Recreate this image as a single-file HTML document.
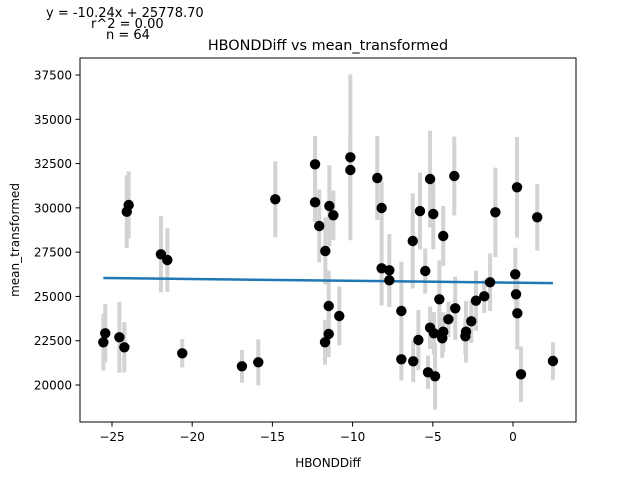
<!DOCTYPE html>
<html><head><meta charset="utf-8"><style>
body{margin:0;background:#fff;}
svg text{font-family:"DejaVu Sans","Liberation Sans",sans-serif;fill:#000;}
</style></head><body>
<svg id="chart" width="640" height="480" xmlns="http://www.w3.org/2000/svg">
<rect x="0" y="0" width="640" height="480" fill="#fff"/>
<text x="46" y="17" font-size="13">y = -10.24x + 25778.70</text>
<text x="91" y="28" font-size="13">r^2 = 0.00</text>
<text x="106" y="39" font-size="13">n = 64</text>
<text x="328" y="50" font-size="14.4" text-anchor="middle">HBONDDiff vs mean_transformed</text>
<g id="plot"></g>
<rect x="80" y="58" width="496" height="364" fill="none" stroke="#000" stroke-width="1"/>
<g id="xticks"></g>
<g id="yticks"></g>
<text x="328" y="467" font-size="12" text-anchor="middle">HBONDDiff</text>
<text x="19" y="240" font-size="12" text-anchor="middle" transform="rotate(-90 19 240)">mean_transformed</text>
</svg>
<script>
const xValues=[-25.54,-25.42,-24.54,-24.23,-24.08,-23.96,-21.95,-21.55,-20.62,-16.90,-15.88,-14.82,-12.34,-12.34,-11.45,-11.20,-12.08,-11.70,-11.49,-11.49,-11.72,-10.83,-10.14,-10.14,-8.46,-8.19,-8.19,-7.71,-7.71,-6.96,-6.96,-6.22,-6.25,-5.80,-5.47,-5.17,-4.97,-4.35,-5.30,-4.86,-5.17,-4.93,-4.59,-3.66,-5.90,-4.35,-4.41,-4.03,-3.60,-2.93,-2.97,-2.60,-2.31,-1.79,-1.43,-1.10,0.14,0.19,0.27,0.25,0.50,1.51,2.49];
const yValues=[22410,22918,22693,22128,29783,30161,27378,27056,21789,21056,21281,30483,32459,30313,30105,29580,28976,27564,24460,22879,22410,23895,32854,32137,31685,29992,26588,26475,25910,24177,21451,21338,28129,29822,26435,31629,29653,28411,20717,20491,23235,22918,24838,31798,22540,23009,22636,23709,24330,23009,22749,23596,24759,25007,25797,29749,26249,25120,24047,31160,20604,29467,21355];
const yErrors=[1600,1650,2000,1420,2050,1900,2150,1800,800,920,1300,2150,1600,1130,2300,1400,2050,1900,2000,1300,1270,1660,4680,2000,2370,1500,2100,2050,1500,2780,1200,1180,2680,2170,1270,2730,2000,1700,940,1880,1200,1200,2200,2230,1700,1100,1100,1000,1780,1740,1000,1220,1700,940,1630,2520,1500,1000,2050,2840,1570,1880,1060];
const xTickValues=[-25,-20,-15,-10,-5,0];
const xTickLabels=["\u221225","\u221220","\u221215","\u221210","\u22125","0"];
const yTickValues=[20000,22500,25000,27500,30000,32500,35000,37500];
const yTickLabels=["20000","22500","25000","27500","30000","32500","35000","37500"];
const slope=-10.24, intercept=25778.70;

const NS="http://www.w3.org/2000/svg";
function sx(v){return 513+v*16.04;}
function sy(v){return 385-(v-20000)*0.017714;}
function mk(tag,attrs,parent){const e=document.createElementNS(NS,tag);for(const k in attrs)e.setAttribute(k,attrs[k]);parent.appendChild(e);return e;}
const plot=document.getElementById('plot');
const xg=document.getElementById('xticks'), yg=document.getElementById('yticks');

xValues.forEach((x,i)=>{
  const l=mk('line',{x1:sx(x),x2:sx(x),y1:sy(yValues[i]-yErrors[i]),y2:sy(yValues[i]+yErrors[i]),stroke:'#d3d3d3','stroke-width':4},plot);
  
  
});
const xmin=Math.min(...xValues), xmax=Math.max(...xValues);
const rl=mk('line',{x1:sx(xmin),y1:sy(slope*xmin+intercept),x2:sx(xmax),y2:sy(slope*xmax+intercept),stroke:'#1f77b4','stroke-width':2.5},plot);


xValues.forEach((x,i)=>{
  const c=mk('circle',{cx:sx(x),cy:sy(yValues[i]),r:5.2,fill:'#000'},plot);
  
  
});
xTickValues.forEach((v,i)=>{
  const t=mk('line',{x1:sx(v),x2:sx(v),y1:422,y2:426.5,stroke:'#000','stroke-width':1},xg);
  
  
  const tx=mk('text',{x:sx(v),y:441,'font-size':12,'text-anchor':'middle'},xg);
  tx.textContent=xTickLabels[i];
  
  
});
yTickValues.forEach((v,i)=>{
  const t=mk('line',{x1:75.5,x2:80,y1:sy(v),y2:sy(v),stroke:'#000','stroke-width':1},yg);
  
  
  const tx=mk('text',{x:72,y:sy(v)+4.5,'font-size':12,'text-anchor':'end'},yg);
  tx.textContent=yTickLabels[i];
  
  
});
</script>
</body></html>
